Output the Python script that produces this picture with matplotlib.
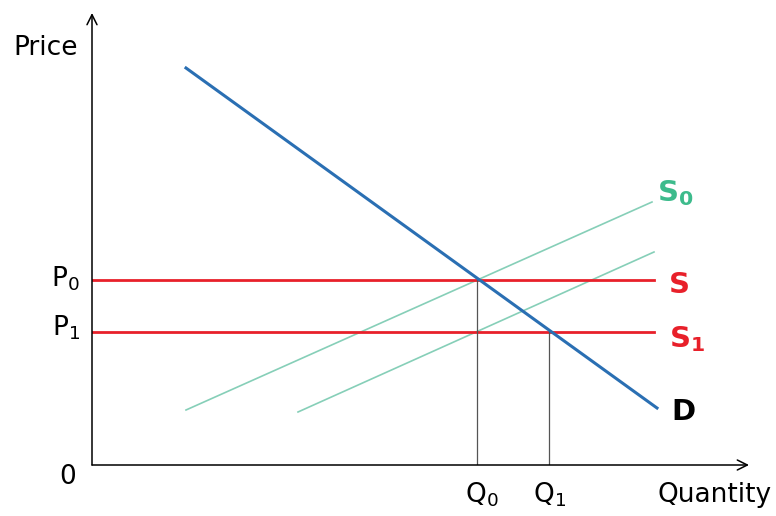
import matplotlib.pyplot as plt

# --- diagram values (quantity, price units) ---
demand_q = [9.4, 56.5]
demand_p = [39.7, 5.7]
supply0_q = [9.4, 56.0]
supply0_p = [5.5, 26.3]
supply0b_q = [20.6, 56.2]
supply0b_p = [5.3, 21.3]
p0, p1 = 18.5, 13.3
q0, q1 = 38.5, 45.7
flat_end = 56.2
x_max, y_max = 65.7, 45.2

blue = "#2a6fb3"
green = "#86cfb8"
green_lab = "#3dbb8c"
red = "#e8202a"

fig = plt.figure(figsize=(7.76, 5.16), dpi=100)
ax = fig.add_axes([92 / 776, 51 / 516, 660 / 776, 455 / 516])
ax.set_xlim(0, 66.0)
ax.set_ylim(0, 45.5)
ax.axis("off")

# axes with arrows
ax.annotate("", xy=(x_max, 0), xytext=(0, 0),
            arrowprops=dict(arrowstyle="->", lw=1.1, color="black",
                            mutation_scale=18, shrinkA=0, shrinkB=0))
ax.annotate("", xy=(0, y_max), xytext=(0, 0),
            arrowprops=dict(arrowstyle="->", lw=1.1, color="black",
                            mutation_scale=18, shrinkA=0, shrinkB=0))

# curves
ax.plot(supply0_q, supply0_p, color=green, lw=1.2)
ax.plot(supply0b_q, supply0b_p, color=green, lw=1.2)
ax.plot([0, flat_end], [p0, p0], color=red, lw=2.0)
ax.plot([0, flat_end], [p1, p1], color=red, lw=2.0)
ax.plot([q0, q0], [0, p0], color="#555555", lw=0.9)
ax.plot([q1, q1], [0, p1], color="#555555", lw=0.9)
ax.plot(demand_q, demand_p, color=blue, lw=2.2)

fs = 19
kw = dict(clip_on=False, fontsize=fs, va="center")
ax.text(-4.6, 41.7, "Price", ha="center", **kw)
ax.text(-1.2, p0 + 0.1, r"P$_\mathregular{0}$", ha="right", **kw)
ax.text(-1.2, p1 + 0.4, r"P$_\mathregular{1}$", ha="right", **kw)
ax.text(-2.4, -1.2, "0", ha="center", **kw)
ax.text(q0 + 0.5, -3.0, r"Q$_\mathregular{0}$", ha="center", **kw)
ax.text(q1 + 0.1, -3.0, r"Q$_\mathregular{1}$", ha="center", **kw)
ax.text(62.3, -3.0, "Quantity", ha="center", **kw)

bkw = dict(clip_on=False, fontsize=21, fontweight="bold", va="center", ha="left")
ax.text(56.5, 27.2, r"S$_\mathbf{0}$", color=green_lab, **bkw)
ax.text(57.7, 18.0, "S", color=red, **bkw)
ax.text(57.7, 12.6, r"S$_\mathbf{1}$", color=red, **bkw)
ax.text(57.9, 5.3, "D", color="black", **bkw)

fig.savefig("out.png", dpi=100)
